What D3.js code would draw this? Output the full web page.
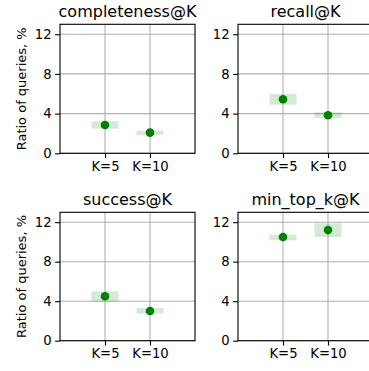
<!DOCTYPE html>
<html>
<head>
<meta charset="utf-8">
<script src="https://cdn.jsdelivr.net/npm/d3@7"></script>
<style>
  body { margin: 0; background: #fff; }
  svg { display: block; font-family: "DejaVu Sans", sans-serif; }
</style>
</head>
<body>
<div id="chart"></div>
<script>
// chart data
const metrics = ['completeness@K', 'recall@K', 'success@K', 'min_top_k@K'];
const kLabels = ['K=5', 'K=10'];
const yTicks = [0, 4, 8, 12];
const means = [[2.85, 2.08], [5.45, 3.83], [4.5, 3.0], [10.5, 11.2]];
const lows = [[2.48, 1.84], [4.9, 3.56], [3.95, 2.74], [10.17, 10.5]];
const highs = [[3.22, 2.28], [5.98, 4.13], [5.0, 3.31], [10.7, 11.88]];

const width = 369;
const height = 371;

const svg = d3.select('#chart')
  .append('svg')
  .attr('width', width)
  .attr('height', height);

// panel boxes: [left, top, right, bottom]
const panels = [
  [60, 24.3, 195, 153.3],
  [238, 24.3, 373, 153.3],
  [60, 212.3, 195, 340.7],
  [238, 212.3, 373, 340.7]
];

metrics.forEach((name, i) => {
  const [x0, y0, x1, y1] = panels[i];
  const x = d3.scaleLinear().domain([-1, 2]).range([x0, x1]);
  const y = d3.scaleLinear().domain([0, 13]).range([y1, y0]);
  const g = svg.append('g');

  // grid
  g.selectAll('.hgrid').data(yTicks).enter().append('line')
    .attr('x1', x0).attr('x2', x1)
    .attr('y1', d => y(d)).attr('y2', d => y(d))
    .attr('stroke', '#b0b0b0').attr('stroke-width', 1.1);
  g.selectAll('.vgrid').data(kLabels).enter().append('line')
    .attr('x1', (d, j) => x(j)).attr('x2', (d, j) => x(j))
    .attr('y1', y0).attr('y2', y1)
    .attr('stroke', '#b0b0b0').attr('stroke-width', 1.1);

  // interval bands
  g.selectAll('.band').data(kLabels).enter().append('rect')
    .attr('x', (d, j) => x(j - 0.3))
    .attr('width', (d, j) => x(j + 0.3) - x(j - 0.3))
    .attr('y', (d, j) => y(highs[i][j]))
    .attr('height', (d, j) => y(lows[i][j]) - y(highs[i][j]))
    .attr('fill', '#008000').attr('fill-opacity', 0.165);

  // points
  g.selectAll('.pt').data(kLabels).enter().append('circle')
    .attr('cx', (d, j) => x(j))
    .attr('cy', (d, j) => y(means[i][j]))
    .attr('r', 4.3)
    .attr('fill', '#008000');

  // axes
  const yAxis = d3.axisLeft(y).tickValues(yTicks).tickSize(4.9).tickPadding(3.5);
  const xAxis = d3.axisBottom(x).tickValues([0, 1]).tickFormat((d) => kLabels[d]).tickSize(4.9).tickPadding(3.5);

  const ya = g.append('g').attr('transform', 'translate(' + x0 + ',0)').call(yAxis);
  const xa = g.append('g').attr('transform', 'translate(0,' + y1 + ')').call(xAxis);
  [ya, xa].forEach(a => {
    a.select('.domain').remove();
    a.selectAll('line').attr('stroke', '#000').attr('stroke-width', 1.1);
    a.selectAll('text').attr('font-size', 13.2).attr('fill', '#000')
      .attr('font-family', '"DejaVu Sans", sans-serif');
  });

  // frame
  g.append('rect')
    .attr('x', x0).attr('y', y0)
    .attr('width', x1 - x0).attr('height', y1 - y0)
    .attr('fill', 'none').attr('stroke', '#000').attr('stroke-width', 1.1);

  // title
  g.append('text')
    .attr('x', (x0 + x1) / 2).attr('y', y0 - 7.5)
    .attr('text-anchor', 'middle')
    .attr('font-size', 16)
    .text(name);

  // y label on left column
  if (i % 2 === 0) {
    g.append('text')
      .attr('transform', 'translate(26,' + ((y0 + y1) / 2) + ') rotate(-90)')
      .attr('text-anchor', 'middle')
      .attr('font-size', 13)
      .text('Ratio of queries, %');
  }
});
</script>
</body>
</html>
